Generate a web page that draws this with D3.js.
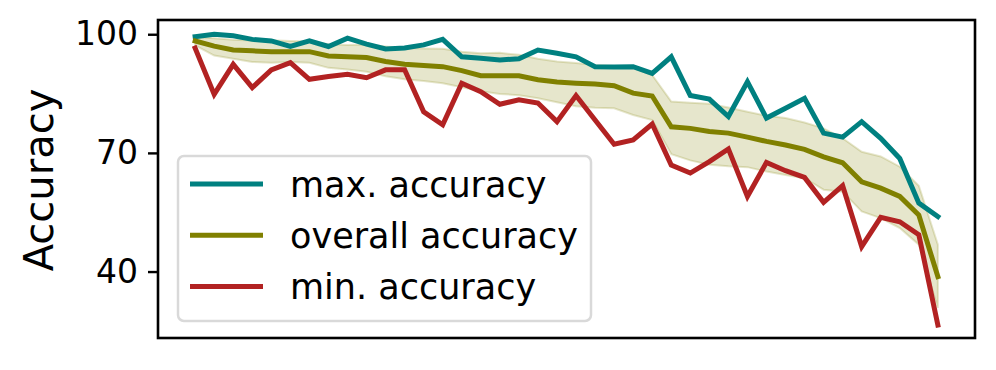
<!DOCTYPE html>
<html>
<head>
<meta charset="utf-8">
<script src="https://cdn.jsdelivr.net/npm/d3@7"></script>
<style>
  body { margin: 0; background: #fff; }
  text { font-family: "DejaVu Sans", sans-serif; }
</style>
</head>
<body>
<script>
// values (40 runs, sorted by accuracy)
var maxAcc = [99.4, 100.0, 99.6, 98.7, 98.3, 96.9, 98.3, 96.9, 99.0, 97.5,
              96.3, 96.5, 97.3, 98.7, 94.3, 93.9, 93.5, 93.8, 96.0, 95.2,
              94.3, 91.8, 91.7, 91.8, 90.1, 94.3, 84.5, 83.6, 79.2, 88.0,
              78.8, 81.3, 83.8, 75.0, 74.0, 77.9, 73.7, 68.6, 57.3, 53.9];
var overallAcc = [98.3, 97.0, 96.0, 95.8, 95.6, 95.6, 95.6, 94.5, 94.3, 94.1,
                  93.1, 92.4, 92.1, 91.8, 90.8, 89.5, 89.5, 89.5, 88.5, 87.9,
                  87.6, 87.4, 87.0, 85.1, 84.4, 76.6, 76.2, 75.4, 75.0, 74.0,
                  72.9, 72.0, 70.9, 69.0, 67.5, 62.7, 61.1, 59.0, 54.3, 38.7];
var minAcc = [96.5, 84.8, 92.4, 86.5, 91.0, 92.8, 88.6, 89.3, 89.9, 89.0,
              91.0, 91.0, 80.4, 77.1, 87.6, 85.5, 82.3, 83.4, 82.6, 77.9,
              84.5, 78.3, 72.2, 73.3, 77.3, 66.9, 64.9, 67.8, 71.0, 59.0,
              67.6, 65.5, 63.8, 57.5, 61.7, 46.3, 53.7, 52.6, 49.3, 26.5];
var bandHi = [99.3, 99.0, 98.6, 98.4, 98.5, 98.3, 98.2, 97.5, 97.3, 97.4,
              96.9, 96.5, 96.4, 96.3, 95.6, 95.2, 95.3, 94.8, 93.8, 93.1,
              92.7, 92.2, 92.0, 91.5, 89.7, 83.0, 82.7, 82.4, 81.5, 80.4,
              79.4, 78.8, 77.7, 76.2, 73.7, 70.3, 69.1, 66.5, 61.7, 46.8];
var bandLo = [97.2, 94.6, 93.8, 93.0, 92.8, 93.0, 92.8, 91.5, 91.1, 90.5,
              89.4, 88.6, 88.2, 87.6, 86.6, 85.6, 84.9, 84.6, 83.8, 82.8,
              81.8, 81.4, 81.3, 79.6, 78.3, 69.7, 68.1, 67.0, 66.6, 66.4,
              65.3, 64.4, 63.6, 60.7, 60.2, 55.2, 53.5, 51.0, 46.8, 30.8];
var yTicks = [40, 70, 100];
var seriesNames = ["max. accuracy", "overall accuracy", "min. accuracy"];
var seriesColors = ["#008080", "#808000", "#b22222"];

var width = 996, height = 370;
var plotL = 158, plotR = 975, plotT = 20, plotB = 338;

var svg = d3.select("body").append("svg")
    .attr("width", width)
    .attr("height", height);

var x = d3.scaleLinear()
    .domain([-1.95, overallAcc.length - 1 + 1.95])
    .range([plotL, plotR]);

var y = d3.scaleLinear()
    .domain([23.2, 103.6])
    .range([plotB, plotT]);

// shaded band
var area = d3.area()
    .x(function (d, i) { return x(i); })
    .y0(function (d, i) { return y(bandLo[i]); })
    .y1(function (d) { return y(d); });

svg.append("path")
    .datum(bandHi)
    .attr("d", area)
    .attr("fill", "#808000")
    .attr("fill-opacity", 0.2)
    .attr("stroke", "#808000")
    .attr("stroke-opacity", 0.2)
    .attr("stroke-width", 2);

var line = d3.line()
    .x(function (d, i) { return x(i); })
    .y(function (d) { return y(d); });

[maxAcc, overallAcc, minAcc].forEach(function (s, k) {
    svg.append("path")
        .datum(s)
        .attr("d", line)
        .attr("fill", "none")
        .attr("stroke", seriesColors[k])
        .attr("stroke-width", 5)
        .attr("stroke-linejoin", "miter")
        .attr("stroke-linecap", "square");
});

// frame
svg.append("rect")
    .attr("x", plotL)
    .attr("y", plotT)
    .attr("width", plotR - plotL)
    .attr("height", plotB - plotT)
    .attr("fill", "none")
    .attr("stroke", "#000")
    .attr("stroke-width", 2.6);

// y axis
var yAxis = svg.append("g")
    .attr("transform", "translate(" + plotL + ",0)")
    .call(d3.axisLeft(y).tickValues(yTicks).tickSize(10).tickPadding(10));
yAxis.select(".domain").remove();
yAxis.selectAll(".tick line").attr("stroke", "#000").attr("stroke-width", 2.4);
yAxis.selectAll(".tick text")
    .attr("fill", "#000")
    .style("font-size", "33px")
    .style("font-family", "DejaVu Sans");

svg.append("text")
    .attr("transform", "translate(53," + 180 + ") rotate(-90)")
    .attr("text-anchor", "middle")
    .style("font-size", "40px")
    .text("Accuracy");

// legend
var lg = svg.append("g");
lg.append("rect")
    .attr("x", 178)
    .attr("y", 156)
    .attr("width", 413)
    .attr("height", 165)
    .attr("rx", 6)
    .attr("fill", "#fff")
    .attr("fill-opacity", 0.8)
    .attr("stroke", "#d9d9d9")
    .attr("stroke-width", 2.5);

seriesNames.forEach(function (name, k) {
    var cy = 184 + k * 51.3;
    lg.append("line")
        .attr("x1", 190).attr("x2", 263)
        .attr("y1", cy).attr("y2", cy)
        .attr("stroke", seriesColors[k])
        .attr("stroke-width", 5);
    lg.append("text")
        .attr("x", 290)
        .attr("y", cy + 12.5)
        .style("font-size", "35px")
        .text(name);
});
</script>
</body>
</html>
